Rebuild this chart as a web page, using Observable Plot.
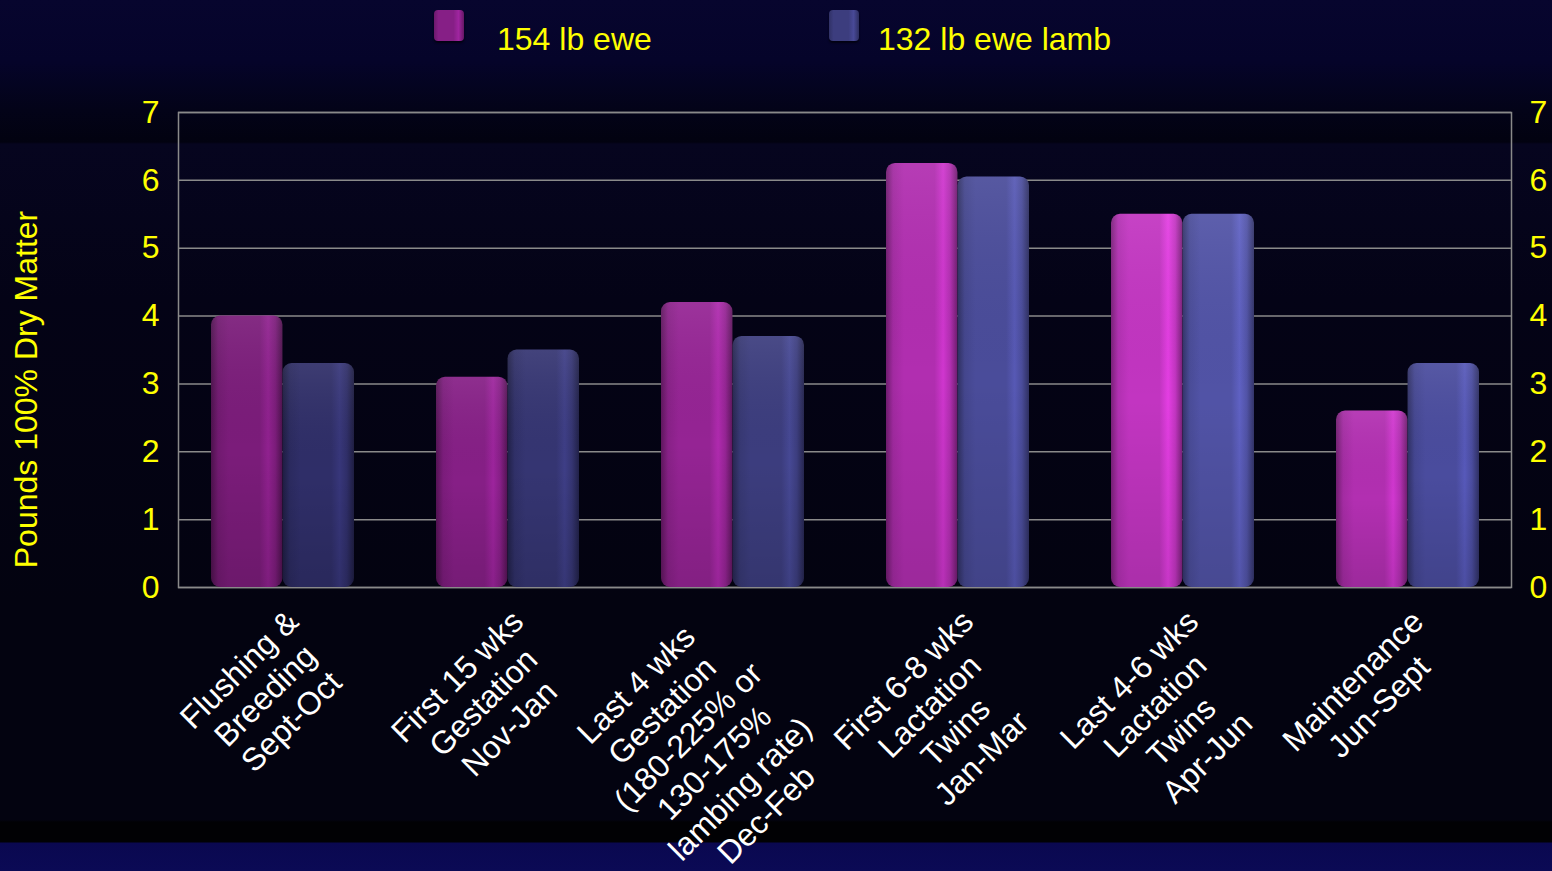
<!DOCTYPE html>
<html>
<head>
<meta charset="utf-8">
<script src="https://cdn.jsdelivr.net/npm/d3@7"></script>
<script src="https://cdn.jsdelivr.net/npm/@observablehq/plot@0.6"></script>
<style>
  html, body { margin: 0; padding: 0; }
  body {
    width: 1552px; height: 871px; overflow: hidden;
    font-family: "Liberation Sans", Arial, sans-serif;
    background: linear-gradient(to bottom,
      #07052e 0px, #05042a 60px, #030318 110px, #020210 142px,
      #06051f 144px, #040316 300px, #030310 600px, #030310 820px,
      #010104 822px, #010104 842px, #0a0850 843px, #0b0a55 871px);
  }
  #legend { position: relative; width: 1552px; height: 80px; }
  .sw { position: absolute; top: 10px; width: 30px; height: 31px; border-radius: 4px; }
  .lt { position: absolute; top: 23px; font-size: 32px; line-height: 32px; color: #ffff00; white-space: nowrap; }
  #chart svg { display: block; }
</style>
</head>
<body>
<div id="legend"></div>
<div id="chart"></div>
<script>
// ---------- DATA ----------
const categories = [
  "Flushing &\nBreeding\nSept-Oct",
  "First 15 wks\nGestation\nNov-Jan",
  "Last 4 wks\nGestation\n(180-225% or\n130-175%\nlambing rate)\nDec-Feb",
  "First 6-8 wks\nLactation\nTwins\nJan-Mar",
  "Last 4-6 wks\nLactation\nTwins\nApr-Jun",
  "Maintenance\nJun-Sept"
];
const seriesNames = ["154 lb ewe", "132 lb ewe lamb"];
const eweValues  = [4.0, 3.1, 4.2, 6.25, 5.5, 2.6];
const lambValues = [3.3, 3.5, 3.7, 6.05, 5.5, 3.3];
const yTicks = [0, 1, 2, 3, 4, 5, 6, 7];
const yTitle = "Pounds 100% Dry Matter";

// ---------- STYLE ----------
const eweShades  = ["#7b1c7a", "#861f86", "#952494", "#b12eb0", "#c235c1", "#b22fb1"];
const lambShades = ["#2f2e68", "#353572", "#3c3d7e", "#4a4c9a", "#5153a6", "#4a4c9e"];
const labelNudge = [0, 0, -38, 0, 0, 0];   // horizontal nudge (px) of rotated category labels
const W = 1552, H = 791;
const mTop = 32, mBottom = 284, mLeft = 178, mRight = 41;
const FONT = "'Liberation Sans', Arial, sans-serif";
const FS = 32, LH = 36.8;
const padInner = 0.365, padOuter = 0.14;
const gridColor = "#8a8a8a";

// ---------- LEGEND ----------
const legend = document.getElementById("legend");
const legendItems = [
  {name: seriesNames[0], sw: 434, tx: 497, c: eweShades[1]},
  {name: seriesNames[1], sw: 829, tx: 878, c: lambShades[2]}
];
for (const it of legendItems) {
  const c = d3.color(it.c);
  const s = document.createElement("div");
  s.className = "sw";
  s.style.left = it.sw + "px";
  s.style.background = `linear-gradient(to right, ${c.darker(0.6)} 0%, ${c} 15%, ${c} 65%, ${c.brighter(0.5)} 82%, ${c.darker(0.8)} 100%)`;
  s.style.boxShadow = "0 2px 2px rgba(0,0,0,0.6)";
  legend.appendChild(s);
  const t = document.createElement("div");
  t.className = "lt";
  t.style.left = it.tx + "px";
  t.textContent = it.name;
  legend.appendChild(t);
}

// ---------- CHART ----------
const rows = categories.map((cat, i) => ({cat, i, ewe: eweValues[i], lamb: lambValues[i]}));

const band = d3.scaleBand().domain(categories).range([mLeft, W - mRight])
  .paddingInner(padInner).paddingOuter(padOuter);
const half = band.bandwidth() / 2;

// measure label widths
const ctx = document.createElement("canvas").getContext("2d");
ctx.font = `${FS}px ${FONT}`;
const S = Math.SQRT1_2;
const anchorDx = -3, anchorDy = 16;
const labelMarks = categories.flatMap((cat, i) => {
  const lines = cat.split("\n");
  const bw = d3.max(lines, (l) => ctx.measureText(l).width);
  return lines.map((line, k) => {
    const lx = -bw / 2, ly = (k + 0.5) * LH;
    return Plot.text([{cat, line}], {
      x: "cat", text: "line", frameAnchor: "bottom",
      rotate: -45, textAnchor: "middle", lineAnchor: "middle",
      dx: anchorDx + labelNudge[i] + S * (lx + ly), dy: anchorDy + S * (ly - lx),
      fontSize: FS, fill: "#ffffff"
    });
  });
});

const plot = Plot.plot({
  width: W, height: H,
  marginTop: mTop, marginBottom: mBottom, marginLeft: mLeft, marginRight: mRight,
  style: {background: "transparent", color: "#ffff00", fontFamily: FONT, overflow: "visible"},
  x: {type: "band", domain: categories, paddingInner: padInner, paddingOuter: padOuter, axis: null},
  y: {domain: [0, 7], axis: null},
  color: {type: "identity"},
  marks: [
    Plot.ruleY(yTicks, {y: (d) => d, stroke: gridColor, strokeWidth: 1.5}),
    Plot.frame({stroke: gridColor, strokeWidth: 1.5}),
    Plot.barY(rows, {x: "cat", y: "ewe", fill: (d) => `url(#ge${d.i})`, insetRight: half, rx: 9}),
    Plot.barY(rows, {x: "cat", y: "lamb", fill: (d) => `url(#gl${d.i})`, insetLeft: half, rx: 9}),
    Plot.barY(rows, {x: "cat", y: "ewe", fill: "url(#vsh)", insetRight: half, rx: 9}),
    Plot.barY(rows, {x: "cat", y: "lamb", fill: "url(#vsh)", insetLeft: half, rx: 9}),
    Plot.axisY(yTicks, {anchor: "left", tickSize: 0, tickPadding: 19, fontSize: FS, fill: "#ffff00",
      label: null, tickFormat: (d) => String(d)}),
    Plot.axisY(yTicks, {anchor: "right", tickSize: 0, tickPadding: 18, fontSize: FS, fill: "#ffff00",
      label: null, tickFormat: (d) => String(d)}),
    Plot.text([yTitle], {text: (d) => d, frameAnchor: "left", rotate: -90, textAnchor: "middle",
      dx: 26 - mLeft, dy: 309 - (mTop + (H - mTop - mBottom) / 2),
      fontSize: FS, fill: "#ffff00", lineAnchor: "middle"}),
    ...labelMarks
  ]
});

// gradient definitions for 3D-looking bars
const ns = "http://www.w3.org/2000/svg";
const defs = document.createElementNS(ns, "defs");
function addGrad(id, stops, vertical) {
  const g = document.createElementNS(ns, "linearGradient");
  g.setAttribute("id", id);
  g.setAttribute("x1", "0"); g.setAttribute("y1", "0");
  g.setAttribute("x2", vertical ? "0" : "1"); g.setAttribute("y2", vertical ? "1" : "0");
  for (const [o, c, op] of stops) {
    const s = document.createElementNS(ns, "stop");
    s.setAttribute("offset", o);
    s.setAttribute("stop-color", c);
    if (op != null) s.setAttribute("stop-opacity", op);
    g.appendChild(s);
  }
  defs.appendChild(g);
}
function barStops(base) {
  const c = d3.color(base);
  return [
    [0, c.darker(1.3).formatHex()],
    [0.1, c.darker(0.25).formatHex()],
    [0.25, c.formatHex()],
    [0.68, c.formatHex()],
    [0.8, c.brighter(0.45).formatHex()],
    [0.9, c.formatHex()],
    [1, c.darker(1.3).formatHex()]
  ];
}
eweShades.forEach((c, i) => addGrad(`ge${i}`, barStops(c)));
lambShades.forEach((c, i) => addGrad(`gl${i}`, barStops(c)));
addGrad("vsh", [[0, "#ffffff", 0.07], [0.5, "#000000", 0], [1, "#000000", 0.12]], true);
plot.insertBefore(defs, plot.firstChild);

document.getElementById("chart").appendChild(plot);
</script>
</body>
</html>
